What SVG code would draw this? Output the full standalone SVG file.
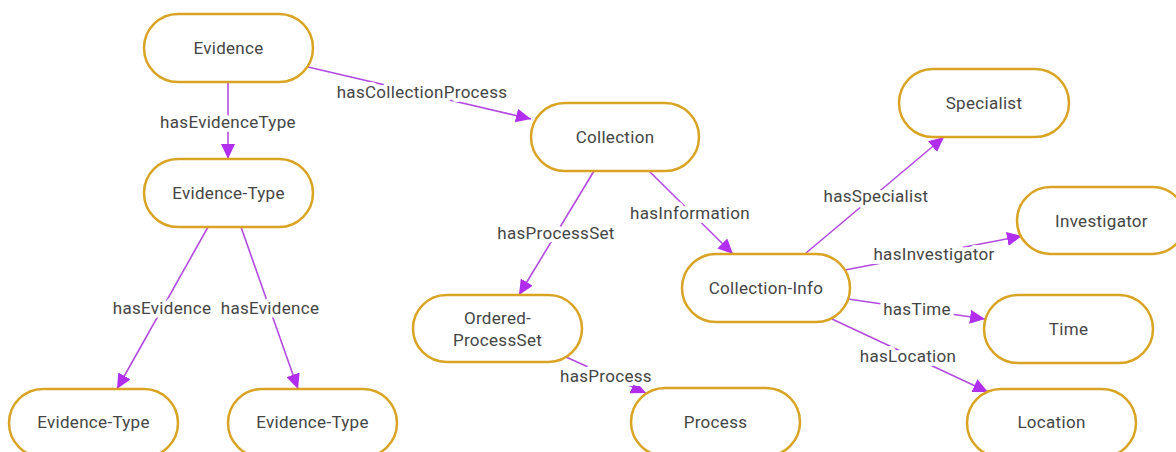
<svg xmlns="http://www.w3.org/2000/svg" width="1176" height="452" viewBox="0 0 1176 452">
  <style>
    .node rect { fill: #ffffff; stroke: #D9A324; stroke-width: 2.5; }
    .node text { font-family: Roboto, "Liberation Sans", sans-serif; font-size: 17px; letter-spacing: 0.3px; fill: #454545; text-anchor: middle; dominant-baseline: central; }
    .edge { stroke: #B44BE1; stroke-width: 1.6; fill: none; marker-end: url(#arrow); }
    .lbl { font-family: Roboto, "Liberation Sans", sans-serif; font-size: 17px; letter-spacing: 0.3px; fill: #454545; text-anchor: middle; dominant-baseline: central; stroke: #ffffff; stroke-width: 8; paint-order: stroke; stroke-linejoin: round; }
  </style>
  <defs>
    <marker id="arrow" markerUnits="userSpaceOnUse" markerWidth="16" markerHeight="14" refX="15" refY="7" orient="auto">
      <path d="M0,0 L15,7 L0,14 Z" fill="#B22EEF"/>
    </marker>
  </defs>
  <rect width="1176" height="452" fill="#ffffff"/>

  <!-- connectors -->
  <g id="connectors">
    <line class="edge" x1="228" y1="82" x2="228" y2="159"/>
    <line class="edge" x1="308" y1="67" x2="531" y2="119"/>
    <line class="edge" x1="208" y1="227" x2="117" y2="389"/>
    <line class="edge" x1="241" y1="227" x2="298" y2="389"/>
    <line class="edge" x1="594" y1="171" x2="519" y2="295"/>
    <line class="edge" x1="649" y1="171" x2="733" y2="254"/>
    <line class="edge" x1="566" y1="357" x2="646" y2="393"/>
    <line class="edge" x1="806" y1="253" x2="944" y2="137"/>
    <line class="edge" x1="845" y1="270" x2="1022" y2="236"/>
    <line class="edge" x1="848" y1="299" x2="985" y2="319"/>
    <line class="edge" x1="832" y1="319" x2="988" y2="392"/>
    <text class="lbl" x="228" y="122">hasEvidenceType</text>
    <text class="lbl" x="422" y="92">hasCollectionProcess</text>
    <text class="lbl" x="162" y="308">hasEvidence</text>
    <text class="lbl" x="270" y="308">hasEvidence</text>
    <text class="lbl" x="556" y="233">hasProcessSet</text>
    <text class="lbl" x="690" y="213">hasInformation</text>
    <text class="lbl" x="606" y="376">hasProcess</text>
    <text class="lbl" x="876" y="196">hasSpecialist</text>
    <text class="lbl" x="934" y="254">hasInvestigator</text>
    <text class="lbl" x="917" y="309">hasTime</text>
    <text class="lbl" x="908" y="356">hasLocation</text>
  </g>

  <!-- nodes -->
  <g id="evidence" class="node">
    <rect x="144" y="14" width="169" height="68" rx="34"/>
    <text x="228.5" y="48">Evidence</text>
  </g>
  <g id="evidence-type" class="node">
    <rect x="144" y="159" width="169" height="68" rx="34"/>
    <text x="228.5" y="193">Evidence-Type</text>
  </g>
  <g id="evidence-type-a" class="node">
    <rect x="9" y="389" width="169" height="68" rx="34"/>
    <text x="93.5" y="422">Evidence-Type</text>
  </g>
  <g id="evidence-type-b" class="node">
    <rect x="228" y="389" width="169" height="68" rx="34"/>
    <text x="312.5" y="422">Evidence-Type</text>
  </g>
  <g id="collection" class="node">
    <rect x="531" y="103" width="168" height="68" rx="34"/>
    <text x="615" y="137">Collection</text>
  </g>
  <g id="ordered-processset" class="node">
    <rect x="413" y="295" width="169" height="67" rx="33.5"/>
    <text x="497.5" y="318">Ordered-</text>
    <text x="497.5" y="340">ProcessSet</text>
  </g>
  <g id="process" class="node">
    <rect x="631" y="388" width="169" height="68" rx="34"/>
    <text x="715.5" y="422">Process</text>
  </g>
  <g id="collection-info" class="node">
    <rect x="682" y="254" width="168" height="68" rx="34"/>
    <text x="766" y="288">Collection-Info</text>
  </g>
  <g id="specialist" class="node">
    <rect x="899" y="69" width="170" height="68" rx="34"/>
    <text x="984" y="103">Specialist</text>
  </g>
  <g id="investigator" class="node">
    <rect x="1017" y="187" width="169" height="67" rx="33.5"/>
    <text x="1101.5" y="221">Investigator</text>
  </g>
  <g id="time" class="node">
    <rect x="984" y="295" width="169" height="68" rx="34"/>
    <text x="1068.5" y="329">Time</text>
  </g>
  <g id="location" class="node">
    <rect x="967" y="389" width="169" height="68" rx="34"/>
    <text x="1051.5" y="422">Location</text>
  </g>
</svg>
